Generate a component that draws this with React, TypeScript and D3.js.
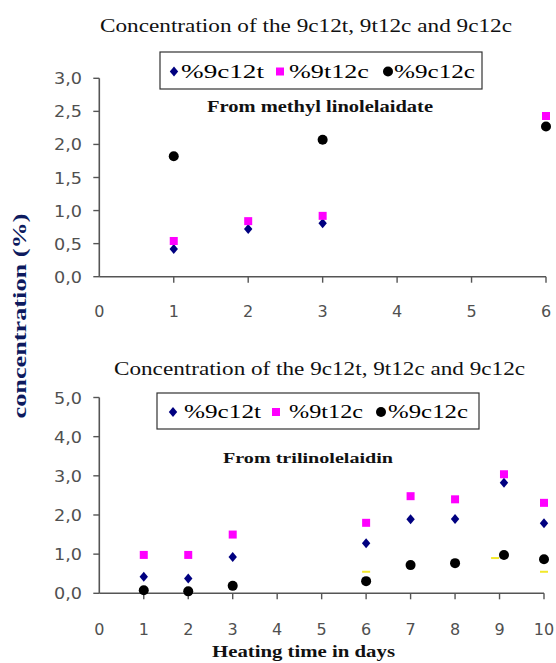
import React from "react";
import * as d3 from "d3";

// ---- Data ----
const topDays = [1, 2, 3, 6];
const top9c12t: (number | null)[] = [0.42, 0.72, 0.81, null];
const top9t12c: (number | null)[] = [0.54, 0.84, 0.92, 2.43];
const top9c12c: (number | null)[] = [1.82, null, 2.07, 2.27];

const botDays = [1, 2, 3, 6, 7, 8, 9.1, 10];
const bot9c12t: (number | null)[] = [0.42, 0.38, 0.93, 1.28, 1.89, 1.9, 2.82, 1.79];
const bot9t12c: (number | null)[] = [0.98, 0.98, 1.5, 1.8, 2.48, 2.4, 3.04, 2.31];
const bot9c12c: (number | null)[] = [0.08, 0.05, 0.19, 0.31, 0.72, 0.77, 0.98, 0.87];
const botExtraDays = [6, 8.9, 10];
const botExtra = [0.55, 0.9, 0.55];

const seriesNames = ["%9c12t", "%9t12c", "%9c12c"];
const titleText = "Concentration of the 9c12t, 9t12c and 9c12c";
const topSubtitle = "From methyl linolelaidate";
const botSubtitle = "From trilinolelaidin";
const xTitle = "Heating time in days";
const yTitle = "concentration (%)";
const topXTicks = [0, 1, 2, 3, 4, 5, 6];
const topYTicks = [0, 0.5, 1, 1.5, 2, 2.5, 3];
const botXTicks = [0, 1, 2, 3, 4, 5, 6, 7, 8, 9, 10];
const botYTicks = [0, 1, 2, 3, 4, 5];

const BLUE = "#000080";
const PINK = "#ff00ff";
const BLACK = "#000000";
const AXIS = "#555555";
const TICKC = "#505050";
const fmt = (v: number) => d3.format(".1f")(v).replace(".", ",");

function Marker({ kind, x, y }: { kind: number; x: number; y: number }) {
  if (kind === 0) {
    const p = d3.path();
    p.moveTo(x, y - 5);
    p.lineTo(x + 4.2, y);
    p.lineTo(x, y + 5);
    p.lineTo(x - 4.2, y);
    p.closePath();
    return <path d={p.toString()} fill={BLUE} />;
  }
  if (kind === 1) return <rect x={x - 4} y={y - 4} width={8} height={8} fill={PINK} />;
  return <circle cx={x} cy={y} r={5} fill={BLACK} />;
}

function Legend({ x, y, w, h, items }: any) {
  return (
    <g>
      <rect x={x} y={y} width={w} height={h} fill="#fff" stroke="#333" strokeWidth={1.2} />
      {items.map((it: any, i: number) => (
        <g key={i}>
          <Marker kind={i} x={it.mx} y={y + h / 2 + 1} />
          <text
            x={it.tx}
            y={y + h / 2 + 7}
            fontFamily="'Liberation Serif', serif"
            fontSize={19}
            textLength={it.tw}
            lengthAdjust="spacingAndGlyphs"
            fill="#000"
          >
            {seriesNames[i]}
          </text>
        </g>
      ))}
    </g>
  );
}

function Panel({ xs, ys, xTicks, yTicks, days, series, extra, clipId }: any) {
  const [x0, x1] = xs.range();
  const [y0, y1] = ys.range();
  return (
    <g>
      {/* axes */}
      <line x1={x0} x2={x0} y1={y0} y2={y1} stroke={AXIS} strokeWidth={1.6} />
      <line x1={x0} x2={x1} y1={y0} y2={y0} stroke={AXIS} strokeWidth={1.6} />
      {yTicks.map((t: number) => (
        <g key={"y" + t}>
          <line x1={x0 - 6} x2={x0} y1={ys(t)} y2={ys(t)} stroke={AXIS} strokeWidth={1.4} />
          <text
            x={82}
            y={ys(t) + 6}
            textAnchor="end"
            fontFamily="'DejaVu Sans', sans-serif"
            fontSize={16}
            textLength={28}
            lengthAdjust="spacingAndGlyphs"
            fill={TICKC}
          >
            {fmt(t)}
          </text>
        </g>
      ))}
      {xTicks.map((t: number) => (
        <g key={"x" + t}>
          {t > 0 && <line x1={xs(t)} x2={xs(t)} y1={y0} y2={y0 + 6} stroke={AXIS} strokeWidth={1.4} />}
        </g>
      ))}
      <g clipPath={`url(#${clipId})`}>
        {extra &&
          extra.days.map((d: number, i: number) => (
            <rect key={"e" + i} x={xs(d) - 4} y={ys(extra.vals[i]) - 1} width={8} height={2} fill="#f2e82a" />
          ))}
        {series.map((vals: (number | null)[], k: number) =>
          vals.map((v, i) =>
            v == null ? null : <Marker key={k + "-" + i} kind={k} x={xs(days[i])} y={ys(v)} />
          )
        )}
      </g>
    </g>
  );
}

export default function App() {
  const W = 556;
  const H = 663;
  const xTop = d3.scaleLinear().domain([0, 6]).range([99.3, 546]);
  const yTop = d3.scaleLinear().domain([0, 3]).range([276.7, 78.3]);
  const xBot = d3.scaleLinear().domain([0, 10]).range([99.3, 544]);
  const yBot = d3.scaleLinear().domain([0, 5]).range([593.3, 397.5]);

  const serif = "'Liberation Serif', 'Times New Roman', serif";
  const sans = "'DejaVu Sans', sans-serif";

  return (
    <svg
      width={W}
      height={H}
      style={{ position: "absolute", left: 0, top: 0, background: "#fff" }}
      xmlns="http://www.w3.org/2000/svg"
    >
      <defs>
        <clipPath id="clipTop">
          <rect x={0} y={0} width={W} height={H} />
        </clipPath>
        <clipPath id="clipBot">
          <rect x={0} y={0} width={W} height={H} />
        </clipPath>
      </defs>
      <rect x={0} y={0} width={W} height={H} fill="#fff" />

      {/* Top panel */}
      <text x={100} y={32} fontFamily={serif} fontSize={19} textLength={412} lengthAdjust="spacingAndGlyphs" fill="#111">
        {titleText}
      </text>
      <Legend
        x={160}
        y={52}
        w={322}
        h={37}
        items={[
          { mx: 174, tx: 181, tw: 83 },
          { mx: 280, tx: 289, tw: 80 },
          { mx: 388, tx: 394, tw: 81 },
        ]}
      />
      <text x={207} y={112} fontFamily={serif} fontWeight="bold" fontSize={17} textLength={226} lengthAdjust="spacingAndGlyphs" fill="#111">
        {topSubtitle}
      </text>
      <Panel
        xs={xTop}
        ys={yTop}
        xTicks={topXTicks}
        yTicks={topYTicks}
        days={topDays}
        series={[top9c12t, top9t12c, top9c12c]}
        clipId="clipTop"
      />
      {topXTicks.map((t) => (
        <text key={"tx" + t} x={xTop(t)} y={317} textAnchor="middle" fontFamily={sans} fontSize={16} fill={TICKC}>
          {t}
        </text>
      ))}

      {/* Bottom panel */}
      <text x={114} y={375} fontFamily={serif} fontSize={19} textLength={411} lengthAdjust="spacingAndGlyphs" fill="#111">
        {titleText}
      </text>
      <Legend
        x={157}
        y={393}
        w={322}
        h={36}
        items={[
          { mx: 173, tx: 184, tw: 77 },
          { mx: 276, tx: 289, tw: 74 },
          { mx: 381, tx: 388, tw: 80 },
        ]}
      />
      <text x={223} y={463} fontFamily={serif} fontWeight="bold" fontSize={15} textLength={170} lengthAdjust="spacingAndGlyphs" fill="#111">
        {botSubtitle}
      </text>
      <Panel
        xs={xBot}
        ys={yBot}
        xTicks={botXTicks}
        yTicks={botYTicks}
        days={botDays}
        series={[bot9c12t, bot9t12c, bot9c12c]}
        extra={{ days: botExtraDays, vals: botExtra }}
        clipId="clipBot"
      />
      {botXTicks.map((t) => (
        <text key={"bx" + t} x={xBot(t)} y={635} textAnchor="middle" fontFamily={sans} fontSize={16} fill={TICKC}>
          {t}
        </text>
      ))}
      <text x={212} y={657} fontFamily={serif} fontWeight="bold" fontSize={17} textLength={183} lengthAdjust="spacingAndGlyphs" fill="#111">
        {xTitle}
      </text>

      {/* Y axis title */}
      <text
        transform="translate(26,316) rotate(-90)"
        textAnchor="middle"
        fontFamily={serif}
        fontWeight="bold"
        fontSize={19}
        textLength={205}
        lengthAdjust="spacingAndGlyphs"
        fill="#0d1a5e"
      >
        {yTitle}
      </text>
    </svg>
  );
}
